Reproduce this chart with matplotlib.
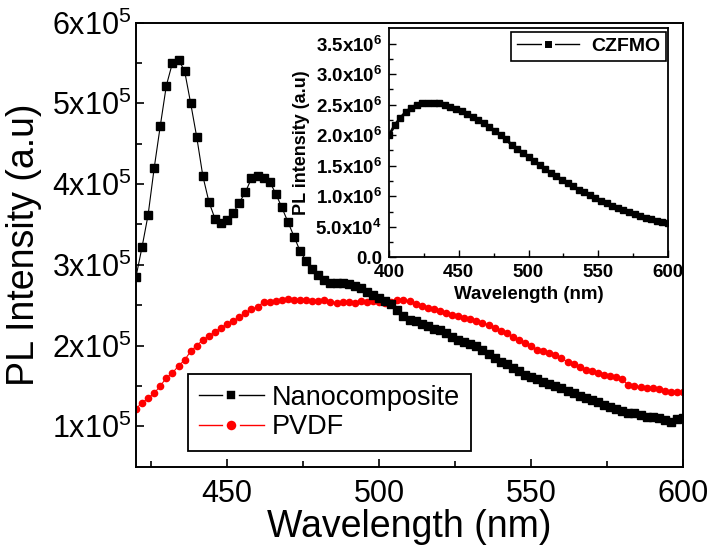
import numpy as np
import matplotlib

matplotlib.use("Agg")
import matplotlib.pyplot as plt  # noqa: E402
from matplotlib.lines import Line2D  # noqa: E402
from matplotlib.ticker import FixedLocator, MultipleLocator  # noqa: E402

plt.rcParams["font.family"] = ["Liberation Sans", "DejaVu Sans"]
plt.rcParams["mathtext.fontset"] = "custom"
plt.rcParams["mathtext.rm"] = "Liberation Sans"
plt.rcParams["mathtext.bf"] = "Liberation Sans:bold"

# main panel: emission, 2 nm steps from 420 to 600 nm
wavelength = np.arange(420, 601, 2)
nanocomposite = [
    285, 322, 362, 420, 472, 522, 550, 554, 540, 500,
    458, 410, 378, 357, 352, 355, 364, 377, 390, 407,
    410, 408, 403, 388, 371, 353, 335, 317, 305, 295,
    287, 281, 277, 277, 277, 276, 274, 271, 266, 262,
    259, 255, 251, 244, 237, 232, 230, 227, 224, 221,
    219, 216, 210, 207, 205, 202, 199, 195, 190, 184,
    180, 177, 172, 168, 164, 161, 158, 155, 153, 150,
    147, 144, 141, 138, 135, 132, 130, 127, 124, 121,
    119, 117, 116, 114, 112, 111, 110, 108, 105, 109,
    110,
]
pvdf = [
    122, 129, 135, 141, 150, 160, 166, 175, 182, 193,
    200, 207, 212, 217, 222, 227, 231, 235, 240, 245,
    248, 254, 254, 255, 257, 258, 256, 256, 257, 255,
    255, 256, 254, 253, 254, 254, 253, 255, 254, 255,
    254, 253, 254, 256, 257, 255, 252, 249, 247, 245,
    243, 240, 238, 236, 234, 233, 231, 228, 226, 222,
    218, 215, 211, 207, 203, 199, 195, 193, 191, 188,
    184, 180, 177, 174, 170, 168, 166, 164, 162, 161,
    158, 151, 150, 149, 148, 147, 146, 144, 143, 143,
    142,
]
nanocomposite = np.array(nanocomposite) * 1e3
pvdf = np.array(pvdf) * 1e3

# inset: CZFMO, 4 nm steps from 400 to 600 nm (units of 1e6)
wl_inset = np.arange(400, 601, 4)
czfmo = [
    2.00, 2.16, 2.28, 2.38, 2.45, 2.50, 2.52, 2.53, 2.53, 2.52,
    2.50, 2.47, 2.43, 2.39, 2.34, 2.30, 2.25, 2.20, 2.14, 2.07,
    2.00, 1.93, 1.84, 1.78, 1.71, 1.64, 1.57, 1.51, 1.45, 1.38,
    1.33, 1.27, 1.21, 1.16, 1.11, 1.07, 1.02, 0.97, 0.93, 0.885,
    0.84, 0.80, 0.77, 0.74, 0.71, 0.68, 0.65, 0.62, 0.60, 0.58,
    0.57,
]
czfmo = np.array(czfmo) * 1e6

main_yticks = [1e5, 2e5, 3e5, 4e5, 5e5, 6e5]
main_ylabels = [r"$\mathregular{%dx10^{5}}$" % k for k in range(1, 7)]
inset_yticks = [0, 0.5e6, 1.0e6, 1.5e6, 2.0e6, 2.5e6, 3.0e6, 3.5e6]
inset_ylabels = ["0.0", r"$\mathregular{5.0x10^{4}}$"] + [
    r"$\mathregular{%sx10^{6}}$" % s for s in ["1.0", "1.5", "2.0", "2.5", "3.0", "3.5"]
]

RED = "#ff0000"

fig = plt.figure(figsize=(7.13, 5.56), dpi=100)
ax = fig.add_axes([0.1907, 0.1606, 0.7673, 0.7989])

ax.plot(wavelength, pvdf, color=RED, lw=0.8, marker="o", ms=4.5, mec=RED)
ax.plot(wavelength, nanocomposite, color="black", lw=0.8, marker="s", ms=5.2)

ax.set_xlim(420, 600)
ax.set_ylim(0.5e5, 6e5)
ax.xaxis.set_major_locator(FixedLocator([450, 500, 550, 600]))
ax.xaxis.set_minor_locator(FixedLocator([425, 475, 525, 575]))
ax.yaxis.set_major_locator(FixedLocator(main_yticks))
ax.set_yticklabels(main_ylabels)
ax.yaxis.set_minor_locator(FixedLocator([1.5e5, 2.5e5, 3.5e5, 4.5e5, 5.5e5]))
ax.tick_params(which="both", direction="in", labelsize=22, width=1.2)
ax.tick_params(which="major", length=6)
ax.tick_params(which="minor", length=4)
ax.tick_params(axis="x", pad=9)
ax.tick_params(axis="y", pad=3)
for s in ax.spines.values():
    s.set_linewidth(1.4)

ax.set_xlabel("Wavelength (nm)", fontsize=27)
ax.xaxis.set_label_coords(0.5, -0.095)
ax.set_ylabel("PL Intensity (a.u)", fontsize=27)
ax.yaxis.set_label_coords(-0.172, 0.5)

handles = [
    Line2D([], [], color="black", lw=1.0, marker="s", ms=9, mfc="black",
           mec="white", mew=2.6),
    Line2D([], [], color=RED, lw=1.0, marker="o", ms=9.5, mfc=RED,
           mec="white", mew=2.6),
]
leg = ax.legend(handles, ["Nanocomposite", "PVDF"], loc="upper left",
                bbox_to_anchor=(188 / 713, 1 - 374 / 556),
                bbox_transform=fig.transFigure, fontsize=19.5, fancybox=False,
                edgecolor="black", framealpha=1, handlelength=2.4,
                handletextpad=0.3, labelspacing=0.12, borderpad=0.4,
                borderaxespad=0)
leg.get_frame().set_linewidth(1.3)

# inset
ins = fig.add_axes([0.5456, 0.5372, 0.3913, 0.4118])
ins.plot(wl_inset, czfmo, color="black", lw=2.0, marker="s", ms=5)
ins.set_xlim(400, 600)
ins.set_ylim(0, 3.75e6)
ins.xaxis.set_major_locator(MultipleLocator(50))
ins.xaxis.set_minor_locator(MultipleLocator(25))
ins.yaxis.set_major_locator(FixedLocator(inset_yticks))
ins.set_yticklabels(inset_ylabels)
ins.yaxis.set_minor_locator(FixedLocator(np.arange(0.25e6, 3.75e6, 0.5e6)))
ins.tick_params(which="both", direction="in", labelsize=13.5, width=1.0, pad=5)
ins.tick_params(which="major", length=5)
ins.tick_params(which="minor", length=3)
for lab in ins.get_xticklabels() + ins.get_yticklabels():
    lab.set_fontweight("bold")
for s in ins.spines.values():
    s.set_linewidth(1.3)
ins.set_xlabel("Wavelength (nm)", fontsize=13.5, fontweight="bold")
ins.xaxis.set_label_coords(0.5, -0.125)
ins.set_ylabel("PL intensity (a.u)", fontsize=13, fontweight="bold")
ins.yaxis.set_label_coords(-0.282, 0.5)

ih = [Line2D([], [], color="black", lw=1.0, marker="s", ms=6.5, mfc="black",
             mec="white", mew=2.2)]
ileg = ins.legend(ih, ["CZFMO"], loc="upper right",
                  bbox_to_anchor=(666 / 713, 1 - 31.7 / 556),
                  bbox_transform=fig.transFigure, fancybox=False,
                  edgecolor="black", framealpha=1, handlelength=3.2,
                  handletextpad=0.6, borderpad=0.3, borderaxespad=0,
                  prop={"size": 14, "weight": "bold"})
ileg.get_frame().set_linewidth(1.2)

fig.savefig("out.png", dpi=100)
